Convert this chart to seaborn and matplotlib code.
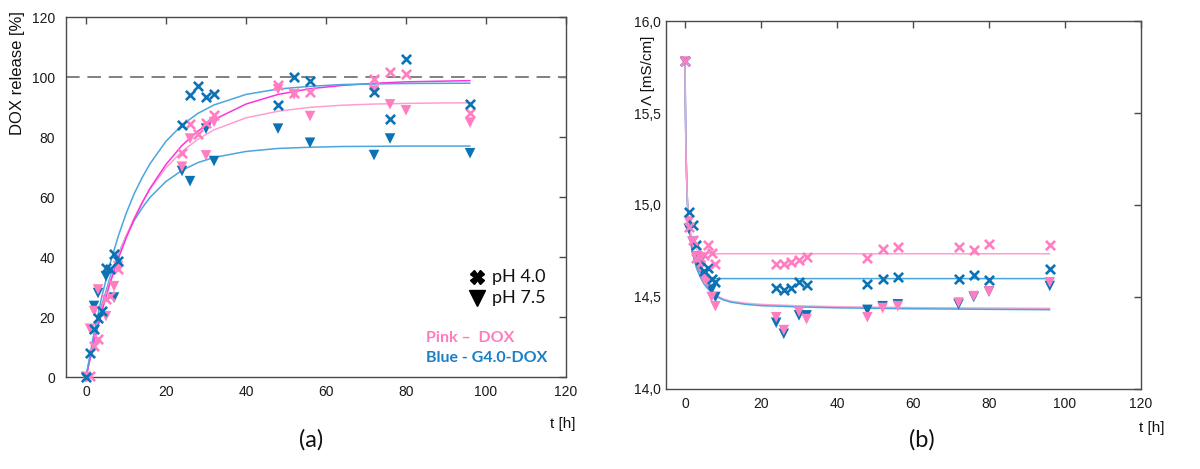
import numpy as np
import pandas as pd
import matplotlib
matplotlib.use("Agg")
import matplotlib.pyplot as plt
import seaborn as sns
from matplotlib.ticker import FuncFormatter, MultipleLocator

sns.set_theme(style="white")
plt.rcParams["font.family"] = ["Liberation Sans", "DejaVu Sans"]

# ---------------- Panel (a): DOX release [%] ----------------
a_dox_ph4_t = [1, 2, 3, 5, 6, 8, 24, 26, 28, 30, 32, 48, 52, 56, 72, 76, 80, 96]
a_dox_ph4_y = [0.3, 10.5, 12.6, 25.9, 27.0, 36.0, 74.8, 84.5, 80.9, 84.8, 87.2,
               97.2, 94.8, 95.0, 99.2, 101.8, 100.9, 88.1]
a_dox_ph75_t = [0, 1, 2, 3, 5, 7, 8, 24, 26, 30, 32, 48, 52, 56, 72, 76, 80, 96]
a_dox_ph75_y = [0, 16.1, 22.0, 29.2, 20.3, 30.3, 37.0, 70.1, 79.5, 73.9, 85.0,
                95.9, 94.2, 87.0, 95.5, 90.9, 88.9, 84.8]
a_g4_ph4_t = [0, 1, 2, 3, 4, 5, 6, 7, 8, 24, 26, 28, 30, 32, 48, 52, 56, 72, 76, 80, 96]
a_g4_ph4_y = [0, 8.1, 15.9, 19.8, 22.0, 36.5, 36.0, 40.9, 38.7, 84.0, 94.0, 97.0,
              93.5, 94.3, 90.6, 100.1, 98.8, 95.0, 85.9, 106.1, 90.9]
a_g4_ph75_t = [0, 2, 3, 5, 7, 24, 26, 30, 32, 48, 56, 72, 76, 96]
a_g4_ph75_y = [0, 23.7, 28.0, 33.6, 26.5, 68.7, 65.3, 82.8, 72.0, 82.8, 78.1,
               74.0, 79.5, 74.6]

# fitted curves
a_fit_t = [0, 2, 4, 6, 8, 10, 12, 14, 16, 20, 24, 28, 32, 40, 48, 56, 64, 72, 80, 88, 96]
a_fit_g4_ph4 = [0, 14.7, 27.1, 37.7, 46.7, 54.4, 61.0, 66.4, 71.1, 78.6, 84.0, 87.9,
                90.7, 94.2, 96.0, 96.9, 97.5, 97.7, 97.85, 97.9, 97.95]
a_fit_dox_ph4 = [0, 11.7, 22.1, 31.2, 39.2, 46.2, 52.5, 58.0, 62.9, 70.9, 77.2, 82.0,
                 85.8, 91.0, 94.2, 96.1, 97.2, 97.9, 98.4, 98.6, 98.8]
a_fit_dox_ph75 = [0, 12.3, 22.9, 32.1, 40.1, 47.0, 52.9, 58.1, 62.6, 69.8, 75.2, 79.3,
                  82.4, 86.4, 88.6, 89.9, 90.6, 91.0, 91.2, 91.35, 91.4]
a_fit_g4_ph75 = [0, 13.2, 24.1, 33.2, 40.7, 46.9, 52.1, 56.3, 59.9, 65.2, 68.9, 71.5,
                 73.2, 75.2, 76.2, 76.6, 76.85, 76.9, 77.0, 77.0, 77.0]
a_ref_level = 100

# ---------------- Panel (b): conductivity ----------------
b_dox_ph4_t = [0, 1, 2, 3, 4, 5, 6, 7, 8, 24, 26, 28, 30, 32, 48, 52, 56, 72, 76, 80, 96]
b_dox_ph4_y = [15.78, 14.88, 14.81, 14.71, 14.72, 14.73, 14.78, 14.74, 14.68, 14.68,
               14.68, 14.69, 14.70, 14.72, 14.71, 14.76, 14.77, 14.77, 14.755, 14.79, 14.78]
b_g4_ph4_t = [0, 1, 2, 3, 4, 5, 6, 7, 8, 24, 26, 28, 30, 32, 48, 52, 56, 72, 76, 80, 96]
b_g4_ph4_y = [15.78, 14.96, 14.89, 14.78, 14.70, 14.64, 14.66, 14.60, 14.58, 14.55,
              14.54, 14.55, 14.58, 14.565, 14.57, 14.60, 14.61, 14.60, 14.62, 14.59, 14.65]
b_dox_ph75_t = [0, 1, 2, 3, 4, 5, 6, 7, 8, 24, 26, 30, 32, 48, 52, 56, 72, 76, 80, 96]
b_dox_ph75_y = [15.78, 14.91, 14.80, 14.72, 14.66, 14.60, 14.58, 14.50, 14.45, 14.39,
                14.32, 14.42, 14.38, 14.39, 14.44, 14.45, 14.47, 14.505, 14.53, 14.58]
b_g4_ph75_t = [1, 2, 3, 4, 5, 6, 7, 8, 24, 26, 30, 32, 48, 52, 56, 72, 76, 80, 96]
b_g4_ph75_y = [14.87, 14.80, 14.72, 14.66, 14.62, 14.58, 14.54, 14.50, 14.36, 14.30,
               14.40, 14.40, 14.43, 14.45, 14.46, 14.46, 14.50, 14.53, 14.56]

b_fit_t = [0, 0.1, 0.25, 0.5, 0.75, 1, 1.5, 2, 3, 4, 5, 6, 8, 10, 12, 16, 20, 30, 40, 60, 80, 96]
b_fit_dox_ph4 = [15.78, 15.55, 15.30, 15.10, 14.98, 14.92, 14.85, 14.80, 14.76, 14.745,
                 14.74, 14.737, 14.735, 14.735, 14.735, 14.735, 14.735, 14.735, 14.735,
                 14.735, 14.735, 14.735]
b_fit_g4_ph4 = [15.78, 15.55, 15.30, 15.10, 14.97, 14.90, 14.80, 14.74, 14.67, 14.635,
                14.615, 14.607, 14.60, 14.60, 14.60, 14.60, 14.60, 14.60, 14.60, 14.60,
                14.60, 14.60]
b_fit_dox_ph75 = [15.78, 15.55, 15.30, 15.08, 14.96, 14.89, 14.80, 14.74, 14.66, 14.61,
                  14.575, 14.55, 14.51, 14.49, 14.478, 14.466, 14.46, 14.452, 14.447,
                  14.442, 14.44, 14.438]
b_fit_g4_ph75 = [15.78, 15.55, 15.30, 15.08, 14.96, 14.89, 14.80, 14.74, 14.66, 14.61,
                 14.57, 14.545, 14.505, 14.485, 14.472, 14.46, 14.453, 14.446, 14.441,
                 14.436, 14.433, 14.431]

# ---------------- styles ----------------
PINK = "#FF7EC1"
BLUE = "#0B72B5"
MAGENTA = "#FF33DD"
LPINK = "#FF9FD0"
LBLUE = "#4AA6DC"
SPINE = "#4A4A4A"

fig = plt.figure(figsize=(12, 4.69), dpi=100)
ax1 = fig.add_axes([0.055, 0.196, 0.4167, 0.7677])
ax2 = fig.add_axes([0.555, 0.1706, 0.3958, 0.7846])


def style_axes(ax, ypad):
    for s in ax.spines.values():
        s.set_color(SPINE)
        s.set_linewidth(1.0)
    ax.tick_params(direction="in", top=True, right=True, length=5, width=1,
                   color=SPINE, labelsize=10, labelcolor="#1a1a1a")
    ax.tick_params(axis="x", pad=6)
    ax.tick_params(axis="y", pad=ypad)
    ax.set_xlim(-5, 120)
    ax.xaxis.set_major_locator(MultipleLocator(20))
    ax.set_xlabel("")
    ax.set_ylabel("")
    ax.grid(False)


def line(ax, t, y, color, lw=1.1):
    sns.lineplot(x=t, y=y, color=color, linewidth=lw, estimator=None, sort=False, ax=ax)


def xs(ax, t, y, color, size=44):
    sns.scatterplot(x=t, y=y, marker="x", color=color, s=size, linewidth=1.9,
                    ax=ax, zorder=4, clip_on=False)


def tris(ax, t, y, color, size=58):
    sns.scatterplot(x=t, y=y, marker="v", color=color, s=size, edgecolor="none",
                    ax=ax, zorder=4, clip_on=False)


# ----- panel a -----
ax1.axhline(a_ref_level, color="#808080", linewidth=1.4, dashes=(7, 4), zorder=1)
line(ax1, a_fit_t, a_fit_g4_ph75, LBLUE)
line(ax1, a_fit_t, a_fit_dox_ph75, LPINK)
line(ax1, a_fit_t, a_fit_dox_ph4, MAGENTA)
line(ax1, a_fit_t, a_fit_g4_ph4, LBLUE)
tris(ax1, a_g4_ph75_t, a_g4_ph75_y, BLUE)
tris(ax1, a_dox_ph75_t, a_dox_ph75_y, PINK)
xs(ax1, a_dox_ph4_t, a_dox_ph4_y, PINK)
xs(ax1, a_g4_ph4_t, a_g4_ph4_y, BLUE)
ax1.set_ylim(0, 120)
ax1.yaxis.set_major_locator(MultipleLocator(20))
style_axes(ax1, 8)

# legend-like annotations
ax1.plot([0.822], [0.278], marker="X", color="black", markersize=10,
         transform=ax1.transAxes, linestyle="none", clip_on=False)
ax1.plot([0.822], [0.219], marker="v", color="black", markersize=11,
         transform=ax1.transAxes, linestyle="none", clip_on=False)
lfont = ["Lato", "DejaVu Sans"]
ax1.text(0.852, 0.278, "pH 4.0", transform=ax1.transAxes, fontsize=13,
         family=lfont, va="center", ha="left", color="#111111")
ax1.text(0.852, 0.219, "pH 7.5", transform=ax1.transAxes, fontsize=13,
         family=lfont, va="center", ha="left", color="#111111")
ax1.text(0.72, 0.108, "Pink \u2013  DOX", transform=ax1.transAxes, fontsize=11.5,
         family=lfont, fontweight="bold", va="center", ha="left", color="#FF7CBF")
ax1.text(0.72, 0.053, "Blue - G4.0-DOX", transform=ax1.transAxes, fontsize=11.5,
         family=lfont, fontweight="bold", va="center", ha="left", color="#1B7FC4")

# ----- panel b -----
line(ax2, b_fit_t, b_fit_dox_ph75, LPINK)
line(ax2, b_fit_t, b_fit_g4_ph75, LBLUE)
line(ax2, b_fit_t, b_fit_g4_ph4, LBLUE)
line(ax2, b_fit_t, b_fit_dox_ph4, LPINK)
tris(ax2, b_g4_ph75_t, b_g4_ph75_y, BLUE)
tris(ax2, b_dox_ph75_t, b_dox_ph75_y, PINK)
xs(ax2, b_g4_ph4_t, b_g4_ph4_y, BLUE)
xs(ax2, b_dox_ph4_t, b_dox_ph4_y, PINK)
ax2.set_ylim(14.0, 16.0)
ax2.yaxis.set_major_locator(MultipleLocator(0.5))
ax2.yaxis.set_major_formatter(FuncFormatter(lambda v, p: f"{v:.1f}".replace(".", ",")))
style_axes(ax2, 4)

# ----- labels -----
fig.text(18 / 1200, 1 - 73 / 469, "DOX release [%]", rotation=90, fontsize=12,
         ha="center", va="center", color="#111111")
fig.text(648 / 1200, 1 - 70 / 469, "\u039b [mS/cm]", rotation=90, fontsize=11,
         ha="center", va="center", color="#111111")
fig.text(563 / 1200, 1 - 424 / 469, "t [h]", fontsize=11, ha="center", va="center",
         color="#111111")
fig.text(1152 / 1200, 1 - 428 / 469, "t [h]", fontsize=11, ha="center", va="center",
         color="#111111")
fig.text(311 / 1200, 1 - 440 / 469, "(a)", fontsize=17, family=lfont, ha="center",
         va="center", color="#111111")
fig.text(922 / 1200, 1 - 440 / 469, "(b)", fontsize=17, family=lfont, ha="center",
         va="center", color="#111111")

fig.savefig("out.png", dpi=100)
